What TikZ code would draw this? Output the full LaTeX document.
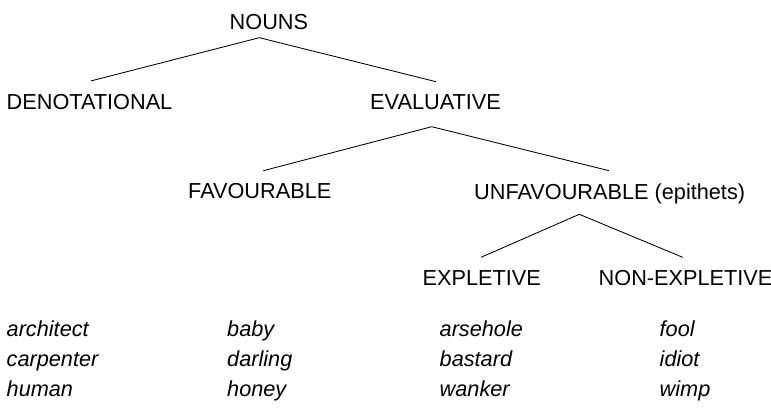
\documentclass[tikz,border=0pt]{standalone}
\usepackage{fontspec}
\setmainfont{Liberation Sans}
\begin{document}
\begin{tikzpicture}[x=1pt,y=-1pt,
  lab/.style={anchor=base west,inner sep=0pt,font=\fontsize{21.7}{26}\selectfont},
  word/.style={anchor=base west,inner sep=0pt,font=\fontsize{21.7}{26}\selectfont\itshape},
  branch/.style={draw=black,line width=0.85pt}]
\useasboundingbox (0,0) rectangle (771,407);
% labels
\node[lab] (nouns) at (229.5,29) {NOUNS};
\node[lab] (deno) at (6.5,109.5) {DENOTATIONAL};
\node[lab] (eval) at (370,109.5) {EVALUATIVE};
\node[lab] (fav) at (188,198) {FAVOURABLE};
\node[lab] (unfav) at (474,199) {UNFAVOURABLE (epithets)};
\node[lab] (expl) at (422.5,285) {EXPLETIVE};
\node[lab] (nonexpl) at (598.5,285) {NON-EXPLETIVE};
% branch points
\coordinate (a1) at (259.3,37.7);
\coordinate (a1l) at (90.7,81);
\coordinate (a1r) at (436,81.7);
\coordinate (a2) at (431.7,126.7);
\coordinate (a2l) at (263.3,170.7);
\coordinate (a2r) at (609,170.7);
\coordinate (a3) at (579.3,214.3);
\coordinate (a3l) at (481,257.3);
\coordinate (a3r) at (682.7,257.3);
\draw[branch] (a1l) -- (a1) -- (a1r);
\draw[branch] (a2l) -- (a2) -- (a2r);
\draw[branch] (a3l) -- (a3) -- (a3r);
% words
\node[word] (w11) at (6.5,336) {architect};
\node[word] (w12) at (6.5,366) {carpenter};
\node[word] (w13) at (6.5,396) {human};
\node[word] (w21) at (227,336) {baby};
\node[word] (w22) at (227,366) {darling};
\node[word] (w23) at (227,396) {honey};
\node[word] (w31) at (439.5,336) {arsehole};
\node[word] (w32) at (439.5,366) {bastard};
\node[word] (w33) at (439.5,396) {wanker};
\node[word] (w41) at (659.5,336) {fool};
\node[word] (w42) at (659.5,366) {idiot};
\node[word] (w43) at (659.5,396) {wimp};
\end{tikzpicture}
\end{document}
